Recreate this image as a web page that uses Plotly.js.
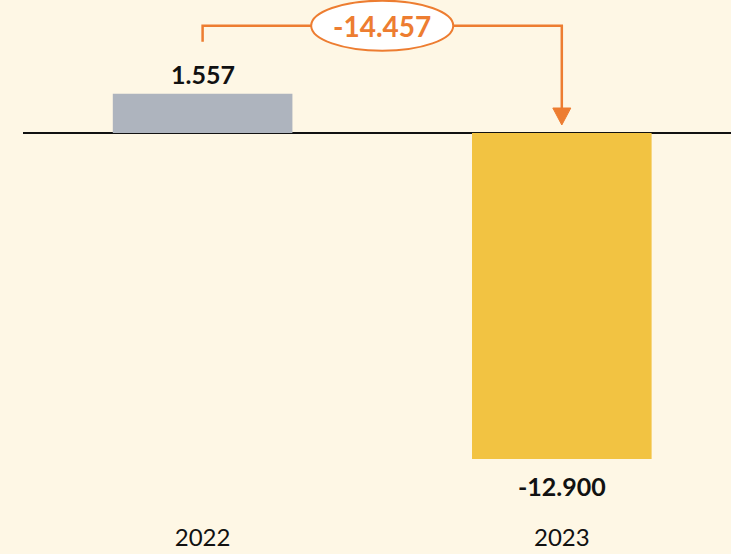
<!DOCTYPE html>
<html><head><meta charset="utf-8">
<script src="https://cdn.plot.ly/plotly-3.0.1.min.js"></script>
<style>html,body{margin:0;padding:0;background:#FEF7E5;}</style>
</head><body><div id="chart" style="width:731px;height:554px;"></div>
<script>
const categories = ["2022", "2023"];
const values = [1557, -12900];
const barColors = ["#AEB4BE", "#F2C342"];
const diffValue = values[1] - values[0];

const fmt = v => (v < 0 ? "-" : "") + Math.abs(v).toString().replace(/\B(?=(\d{3})+(?!\d))/g, ".");

const orange = "#ED7D31";
const pxPerUnit = 0.02527;
const plotH = 514;
const zeroPx = 133;
const yTop = zeroPx / pxPerUnit;
const yBot = -(plotH - zeroPx) / pxPerUnit;
const u = px => px / pxPerUnit;
const xu = px => px / 359;

const bracketY = values[0] + u(68);
const startY = values[0] + u(52);
const tipY = u(8);
const arrowLen = u(17);
const arrowHalf = xu(9);
const midX = 0.5;

const shapes = [
  {type: "path", xref: "x", yref: "y",
   path: `M 0 ${startY} L 0 ${bracketY} L 1 ${bracketY} L 1 ${tipY + arrowLen}`,
   line: {color: orange, width: 2.5}},
  {type: "path", xref: "x", yref: "y",
   path: `M ${1 - arrowHalf} ${tipY + arrowLen} L ${1 + arrowHalf} ${tipY + arrowLen} L 1 ${tipY} Z`,
   fillcolor: orange, line: {color: orange, width: 1}},
  {type: "circle", xref: "x", yref: "y",
   x0: midX - xu(71), x1: midX + xu(71), y0: bracketY - u(25), y1: bracketY + u(25),
   fillcolor: "#FFFFFF", line: {color: orange, width: 2}}
];

const annotations = [
  {x: 0, y: values[0], xref: "x", yref: "y", text: "<b>" + fmt(values[0]) + "</b>",
   showarrow: false, yanchor: "bottom", yshift: 3, font: {family: "Lato, sans-serif", size: 25, color: "#111"}},
  {x: 1, y: values[1], xref: "x", yref: "y", text: "<b>" + fmt(values[1]) + "</b>",
   showarrow: false, yanchor: "top", yshift: -10, font: {family: "Lato, sans-serif", size: 25, color: "#111"}},
  {x: midX, y: bracketY, xref: "x", yref: "y", text: "<b>" + fmt(diffValue) + "</b>",
   showarrow: false, yanchor: "middle", font: {family: "Lato, sans-serif", size: 28, color: orange}}
];

const trace = {
  type: "bar", x: [0, 1], y: values, width: 0.5,
  marker: {color: barColors, line: {width: 0}},
  hoverinfo: "none"
};

const layout = {
  width: 731, height: 554,
  margin: {l: 23, r: 0, t: 0, b: 40, pad: 0},
  paper_bgcolor: "#FEF7E5", plot_bgcolor: "#FEF7E5",
  showlegend: false,
  xaxis: {range: [-0.5, 1.471], tickvals: [0, 1], ticktext: categories,
          showgrid: false, zeroline: false, showline: false, ticks: "", ticklabelstandoff: 7,
          tickfont: {family: "Lato, sans-serif", size: 24, color: "#111"}, fixedrange: true},
  yaxis: {range: [yBot, yTop], showgrid: false, showticklabels: false, ticks: "",
          zeroline: true, zerolinecolor: "#111", zerolinewidth: 2, showline: false, fixedrange: true},
  shapes: shapes, annotations: annotations
};

Plotly.newPlot("chart", [trace], layout, {displayModeBar: false, staticPlot: true});
</script></body></html>
